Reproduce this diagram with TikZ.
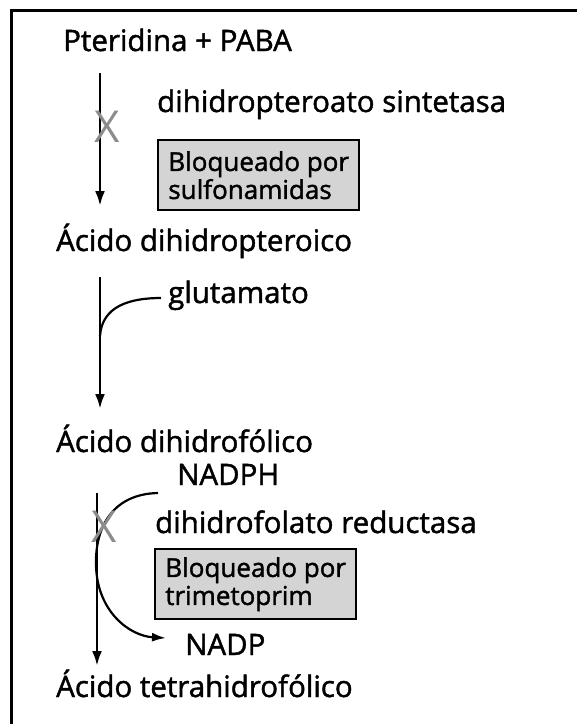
\documentclass[tikz,border=0pt]{standalone}
\usepackage{fontspec}
\setmainfont{Open Sans}[FakeBold=1.5]
\newfontfamily\xfont{Open Sans}
\usetikzlibrary{arrows.meta}
\definecolor{boxgray}{RGB}{212,212,212}
\definecolor{xgray}{RGB}{140,140,140}
\tikzset{
  lbl/.style={anchor=base west, inner sep=0pt, font=\fontsize{29.5}{30}\selectfont},
  boxtxt/.style={anchor=north west, draw, line width=2.4pt, fill=boxgray, align=left,
    minimum width=201pt, minimum height=70pt,
    inner xsep=6pt, inner ysep=0pt, font=\fontsize{26}{28}\selectfont},
  rxn/.style={line width=2.8pt, -{Latex[length=15pt,width=10pt]}},
  side/.style={line width=2.2pt},
  xmark/.style={text=xgray, inner sep=0pt, font=\xfont\fontsize{44}{44}\selectfont}
}
\begin{document}
\begin{tikzpicture}[x=1pt,y=-1pt]
\useasboundingbox (0,0) rectangle (577,724);
\draw[line width=3pt] (577,10) -- (11,10) -- (11,724);
% labels
\node[lbl] (pp) at (63,51) {Pteridina + PABA};
\node[lbl] (e1) at (157,112) {dihidropteroato sintetasa};
\node[boxtxt] (b1) at (157,139) {Bloqueado por\\sulfonamidas};
\node[lbl] (adp) at (56,251) {Ácido dihidropteroico};
\node[lbl] (glu) at (168,303) {glutamato};
\node[lbl] (adf) at (56,452) {Ácido dihidrofólico};
\node[lbl] (nadph) at (177,485) {NADPH};
\node[lbl] (e2) at (155,533) {dihidrofolato reductasa};
\node[boxtxt] (b2) at (154,548) {Bloqueado por\\trimetoprim};
\node[lbl] (nadp) at (185,655) {NADP};
\node[lbl] (ath) at (56,697) {Ácido tetrahidrofólico};
% coordinates
\coordinate (a1s) at (100,73);
\coordinate (a1e) at (100,206);
\coordinate (a2s) at (100,277);
\coordinate (a2e) at (100,409);
\coordinate (a3s) at (97,493);
\coordinate (a3e) at (97,666);
\coordinate (gj) at (100,336);
\coordinate (gs) at (161,298);
\coordinate (ns) at (158,493);
\coordinate (ne) at (166,638);
% arrows
\draw[rxn] (a1s) -- (a1e);
\draw[rxn] (a2s) -- (a2e);
\draw[rxn] (a3s) -- (a3e);
\draw[side] (gj) .. controls (102,306) and (130,298) .. (gs);
\draw[side, -{Latex[length=14pt,width=9pt]}] (ns) .. controls (112,494) and (95,528) .. (96,565)
   .. controls (97,612) and (130,636) .. (ne);
% X marks
\node[xmark] (x1) at (107,127) {X};
\node[xmark] (x2) at (104,527) {X};
\end{tikzpicture}
\end{document}
